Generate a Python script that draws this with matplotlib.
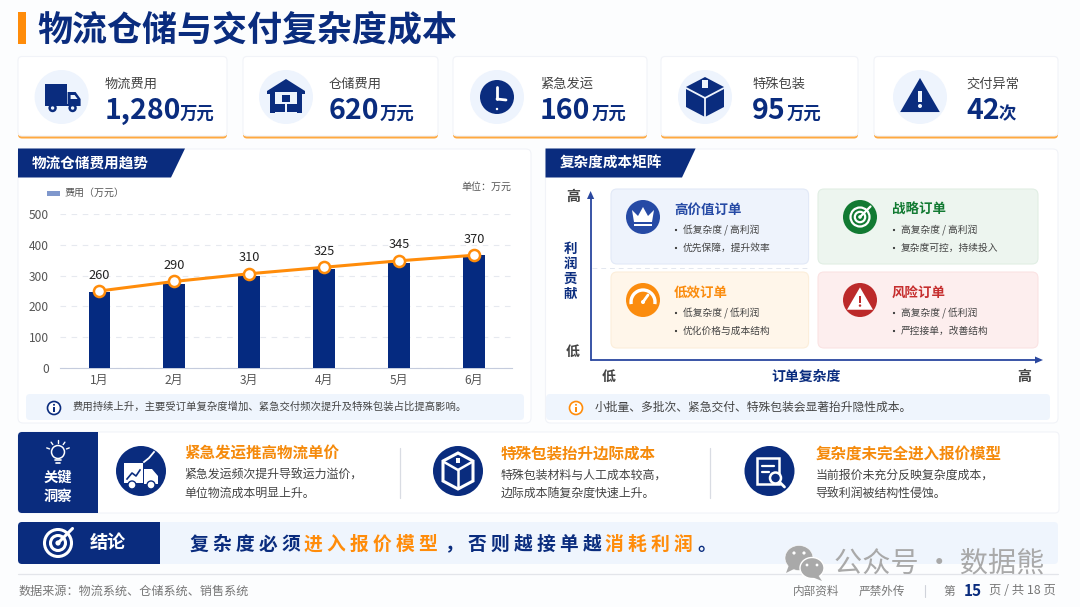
import numpy as np
import matplotlib
matplotlib.use("Agg")
import matplotlib.pyplot as plt
from matplotlib.patches import FancyBboxPatch, Rectangle, Circle, Polygon, Ellipse, Wedge, Arc

plt.rcParams['font.family'] = ['Noto Sans CJK SC', 'DejaVu Sans']

# ---------- data ----------
months = ['1月', '2月', '3月', '4月', '5月', '6月']
bar_values = [246, 274, 298, 320, 340, 366]
line_values = [250, 281, 306, 327, 348, 366]
point_labels = [260, 290, 310, 325, 345, 370]
y_ticks = [0, 100, 200, 300, 400, 500]

kpi_names = ['物流费用', '仓储费用', '紧急发运', '特殊包装', '交付异常']
kpi_values = ['1,280', '620', '160', '95', '42']
kpi_units = ['万元', '万元', '万元', '万元', '次']

quad_titles = ['高价值订单', '战略订单', '低效订单', '风险订单']
quad_lines = [['低复杂度 / 高利润', '优先保障，提升效率'],
              ['高复杂度 / 高利润', '复杂度可控，持续投入'],
              ['低复杂度 / 低利润', '优化价格与成本结构'],
              ['高复杂度 / 低利润', '严控接单，改善结构']]

insight_titles = ['紧急发运推高物流单价', '特殊包装抬升边际成本', '复杂度未完全进入报价模型']
insight_lines = [['紧急发运频次提升导致运力溢价，', '单位物流成本明显上升。'],
                 ['特殊包装材料与人工成本较高，', '边际成本随复杂度快速上升。'],
                 ['当前报价未充分反映复杂度成本，', '导致利润被结构性侵蚀。']]

NAVY = '#0A2C7E'
ORANGE = '#FF8C0A'
W, H = 1080, 607
fig = plt.figure(figsize=(10.8, 6.07), dpi=100, facecolor='#FCFDFE')
bg = fig.add_axes([0, 0, 1, 1])
bg.set_xlim(0, W)
bg.set_ylim(H, 0)
bg.axis('off')


def rrect(x0, y0, x1, y1, r=4, fc='white', ec='none', lw=0.8, z=1, alpha=None):
    p = FancyBboxPatch((x0 + r, y0 + r), x1 - x0 - 2 * r, y1 - y0 - 2 * r,
                       boxstyle=f'round,pad={r},rounding_size={r}', fc=fc, ec=ec, lw=lw, zorder=z, alpha=alpha)
    bg.add_patch(p)


def rect(x0, y0, x1, y1, fc='white', z=3):
    bg.add_patch(Rectangle((x0, y0), x1 - x0, y1 - y0, fc=fc, ec='none', zorder=z))


def circ(x, y, r, fc='white', ec='none', lw=0, z=3):
    bg.add_patch(Circle((x, y), r, fc=fc, ec=ec, lw=lw, zorder=z))


def poly(pts, fc='white', z=3, ec='none', lw=0):
    bg.add_patch(Polygon(pts, closed=True, fc=fc, ec=ec, lw=lw, zorder=z))


def seg(x0, y0, x1, y1, c='white', lw=1.2, z=4, ls='-'):
    bg.plot([x0, x1], [y0, y1], color=c, lw=lw, zorder=z, ls=ls, solid_capstyle='round')


def txt(x, y, s, size, c='#333333', w='normal', ha='left', va='center', z=5, **kw):
    return bg.text(x, y, s, fontsize=size, color=c, fontweight=w, ha=ha, va=va, zorder=z, **kw)


# ---------- icons ----------
def icon_truck(cx, cy, c=NAVY):
    rect(cx - 17, cy - 13, cx + 5, cy + 7, c)
    poly([(cx + 6, cy - 5), (cx + 14, cy - 5), (cx + 19, cy + 2), (cx + 19, cy + 9), (cx + 6, cy + 9)], c)
    poly([(cx + 9, cy - 2), (cx + 13, cy - 2), (cx + 16, cy + 2), (cx + 9, cy + 2)], '#EEF4FD', z=4)
    rect(cx - 17, cy + 7, cx + 6, cy + 9, c)
    for dx in (-9, 11):
        circ(cx + dx, cy + 11, 4.2, c, z=4)
        circ(cx + dx, cy + 11, 1.7, '#EEF4FD', z=5)


def icon_warehouse(cx, cy, c=NAVY):
    poly([(cx, cy - 18), (cx + 19, cy - 6), (cx + 19, cy - 3), (cx + 16, cy - 3), (cx + 16, cy + 16),
          (cx - 16, cy + 16), (cx - 16, cy - 3), (cx - 19, cy - 3), (cx - 19, cy - 6)], c)
    rect(cx - 11, cy - 5, cx + 11, cy + 16, '#EEF4FD', z=4)
    rect(cx - 4, cy - 2, cx + 4, cy + 5, c, z=5)
    rect(cx - 11, cy + 7, cx - 1, cy + 15, c, z=5)
    rect(cx + 1, cy + 7, cx + 11, cy + 15, c, z=5)


def icon_clock(cx, cy, c=NAVY):
    circ(cx, cy, 17, c)
    seg(cx, cy - 10, cx, cy + 2, 'white', 2)
    seg(cx, cy + 2, cx + 9, cy + 3, 'white', 2)
    circ(cx, cy + 12, 1.2, 'white', z=4)


def icon_box(cx, cy, c=NAVY):
    poly([(cx, cy - 20), (cx + 19, cy - 10), (cx + 19, cy + 10), (cx, cy + 20), (cx - 19, cy + 10), (cx - 19, cy - 10)], c)
    seg(cx - 19, cy - 9, cx, cy + 1, '#EEF4FD', 1.3)
    seg(cx + 19, cy - 9, cx, cy + 1, '#EEF4FD', 1.3)
    seg(cx, cy + 1, cx, cy + 20, '#EEF4FD', 1.3)
    rect(cx - 3, cy - 17, cx + 3, cy - 9, '#EEF4FD', z=4)


def icon_warn(cx, cy, c=NAVY, fg='#EEF4FD', s=1.0):
    poly([(cx, cy - 17 * s), (cx + 18 * s, cy + 14 * s), (cx - 18 * s, cy + 14 * s)], c, ec=c, lw=1.5)
    rect(cx - 1.8 * s, cy - 6 * s, cx + 1.8 * s, cy + 5 * s, fg, z=5)
    circ(cx, cy + 9 * s, 2 * s, fg, z=5)


def icon_crown(cx, cy):
    poly([(cx - 11, cy - 6), (cx - 5, cy), (cx, cy - 9), (cx + 5, cy), (cx + 11, cy - 6), (cx + 9, cy + 6), (cx - 9, cy + 6)], 'white', z=4)
    rect(cx - 9, cy + 8, cx + 9, cy + 10, 'white', z=4)


def icon_target(cx, cy, fg='white', rad=(9.5, 5.2, 1.8), lw=1.6):
    for r in rad[:2]:
        circ(cx, cy, r, 'none', fg, lw, z=4)
    circ(cx, cy, rad[2], fg, z=4)
    seg(cx, cy, cx + rad[0] + 1, cy - rad[0] - 1, fg, lw)


def icon_gauge(cx, cy):
    bg.add_patch(Arc((cx, cy + 3), 24, 24, theta1=170, theta2=370, ec='white', lw=2.4, zorder=4))
    seg(cx, cy + 3, cx + 5, cy - 4, 'white', 2)
    circ(cx, cy + 3, 2, 'white', z=5)


def icon_bulb(cx, cy):
    circ(cx, cy - 1, 6.5, 'none', 'white', 1.1, z=4)
    seg(cx - 3, cy + 7, cx + 3, cy + 7, 'white', 1.2)
    seg(cx - 2, cy + 10, cx + 2, cy + 10, 'white', 1.2)
    for a in np.deg2rad([-160, -125, -90, -55, -20]):
        seg(cx + 9 * np.cos(a), cy - 1 + 9 * np.sin(a), cx + 12 * np.cos(a), cy - 1 + 12 * np.sin(a), 'white', 1)


def icon_info(cx, cy, c):
    circ(cx, cy, 6.5, 'white', c, 1.2, z=4)
    rect(cx - 0.8, cy - 1, cx + 0.8, cy + 4, c, z=5)
    circ(cx, cy - 3.2, 1, c, z=5)


# ---------- title ----------
rect(18, 12, 26, 44, ORANGE)
txt(37, 29.5, '物流仓储与交付复杂度成本', 25.2, NAVY, 'bold')

# ---------- KPI cards ----------
card_x = [(18, 227), (243, 438), (453, 647), (661, 858), (874, 1058)]
icon_cx = [61.6, 286, 497, 705, 920]
text_x = [105, 329, 540, 752, 966]
unit_x = [180, 380, 592, 787, 999]
kpi_icons = [icon_truck, icon_warehouse, icon_clock, icon_box, icon_warn]
for i, (x0, x1) in enumerate(card_x):
    rrect(x0, 60, x1, 138.5, 4, '#FFA940', z=1)
    rrect(x0, 56.5, x1, 136, 4, 'white', '#F1F3F8', z=2)
    circ(icon_cx[i], 97, 27, '#EEF4FD', z=3)
    kpi_icons[i](icon_cx[i], 97, NAVY)
    txt(text_x[i], 84, kpi_names[i], 9.5, '#444444')
    txt(text_x[i], 111, kpi_values[i], 20.5, NAVY, 'bold')
    txt(unit_x[i], 114, kpi_units[i], 12.5, NAVY, 'bold')

# ---------- panels ----------
for (x0, x1, x2, x3, title) in [(18, 531, 185, 171, '物流仓储费用趋势'),
                                (545.5, 1058, 695.6, 682, '复杂度成本矩阵')]:
    rrect(x0, 149, x1, 423, 5, 'white', '#F1F3F8', z=1)
    poly([(x0, 148.5), (x2, 148.5), (x3, 177.5), (x0, 177.5)], NAVY, z=2)
    txt(x0 + 14, 163, title, 10.5, 'white', 'bold')

# ---------- bar + line chart ----------
ax = fig.add_axes([60 / W, 1 - 368 / H, (512 - 60) / W, (368 - 214) / H])
ax.patch.set_alpha(0)
xs = np.arange(len(months))
ax.bar(xs, bar_values, width=0.287, color='#052A80', zorder=3)
ax.plot(xs, line_values, color=ORANGE, lw=2.2, zorder=4, marker='o', ms=8,
        mfc='white', mec=ORANGE, mew=1.8)
for x, y, label in zip(xs, line_values, point_labels):
    ax.annotate(str(label), (x, y), xytext=(0, 11.5), textcoords='offset points',
                ha='center', va='center', fontsize=9.2, color='#222222', zorder=5)
ax.set_xlim(-0.525, 5.51)
ax.set_ylim(0, 500)
ax.set_yticks(y_ticks)
ax.set_xticks(xs, months)
ax.tick_params(axis='both', length=0, labelsize=8.6, labelcolor='#555555')
ax.tick_params(axis='y', pad=8)
ax.tick_params(axis='x', pad=4)
ax.yaxis.grid(True, color='#E6E9EF', lw=0.8, ls=(0, (5, 5)), zorder=0)
ax.set_axisbelow(True)
for s in ['top', 'right', 'left']:
    ax.spines[s].set_visible(False)
ax.spines['bottom'].set_color('#C5CCDD')
ax.spines['bottom'].set_linewidth(0.8)

rect(46.5, 191, 59.6, 196, '#7F97CC')
txt(65, 193, '费用（万元）', 7.2, '#555555')
txt(511, 187, '单位：万元', 7.2, '#555555', ha='right')

rrect(26, 394, 524, 420, 4, '#EFF5FD', z=2)
icon_info(54, 408, NAVY)
txt(73, 407, '费用持续上升，主要受订单复杂度增加、紧急交付频次提升及特殊包装占比提高影响。', 7.45, '#444444')

# ---------- matrix ----------
quad_box = [(611, 189, 808.6, 264), (818, 189, 1038, 264), (611, 272, 808.6, 348), (818, 272, 1038, 348)]
quad_fill = ['#EEF3FC', '#EDF5EF', '#FFF6EA', '#FDEEEE']
quad_edge = ['#E2E9F7', '#E1EEE4', '#FCEEDA', '#FBE3E3']
quad_dark = ['#264AA5', '#127A32', '#FB8C0E', '#BC2A2A']
quad_title_c = ['#264AA5', '#127A32', '#FB8C0E', '#C62E2E']
for i, (x0, y0, x1, y1) in enumerate(quad_box):
    rrect(x0, y0, x1, y1, 6, quad_fill[i], quad_edge[i], z=2)
    cx = 643 if i % 2 == 0 else 860
    cy = 217 if i < 2 else 300
    circ(cx, cy, 17, quad_dark[i])
    tx = 674 if i % 2 == 0 else 892
    txt(tx, cy - 7, quad_titles[i], 9.7, quad_title_c[i], 'bold')
    for j, line in enumerate(quad_lines[i]):
        ly = cy + 13 + 18 * j
        circ(tx + 2, ly, 1.1, '#333333')
        txt(tx + 9, ly, line, 7.0, '#444444')
icon_crown(643, 216)
icon_target(860, 217)
icon_gauge(643, 299)
icon_warn(860, 300, 'white', '#BC2A2A', 0.62)

seg(592, 268, 808, 268, '#E3E7EF', 0.7, z=1.5, ls=(0, (5, 4)))
AX = '#2A479F'
seg(590.6, 360, 590.6, 196, AX, 1.3)
seg(590.6, 360, 1038, 360, AX, 1.3)
poly([(590.6, 191), (587, 199), (594.2, 199)], AX)
poly([(1043, 360), (1035, 356.5), (1035, 363.5)], AX)
txt(572.7, 197, '高', 10, '#444444', 'bold', ha='center')
txt(572.7, 352, '低', 10, '#444444', 'bold', ha='center')
for ch, yy in zip('利润贡献', [249, 264, 279, 294]):
    txt(570, yy, ch, 9.7, NAVY, 'bold', ha='center')
txt(609, 377, '低', 10, '#444444', 'bold', ha='center')
txt(806, 377, '订单复杂度', 10, NAVY, 'bold', ha='center')
txt(1024, 377, '高', 10, '#444444', 'bold', ha='center')

rrect(546, 394, 1050, 420, 4, '#EFF5FD', z=2)
icon_info(576, 408, ORANGE)
txt(595, 407, '小批量、多批次、紧急交付、特殊包装会显著抬升隐性成本。', 8.5, '#444444')

# ---------- insights ----------
rrect(18, 432, 1059, 513, 4, 'white', '#F1F3F8', z=1)
rrect(18, 432, 98, 513, 4, NAVY, z=2)
rect(90, 432, 98, 513, NAVY, z=2)
icon_bulb(58, 453)
txt(58, 478, '关键', 10.3, 'white', 'bold', ha='center')
txt(58, 497, '洞察', 10.3, 'white', 'bold', ha='center')
ins_cx = [141, 458, 769.5]
ins_tx = [184, 501, 815.5]
for i in range(3):
    circ(ins_cx[i], 471, 25, NAVY)
    txt(ins_tx[i], 454, insight_titles[i], 11.2, '#F58A0B', 'bold')
    for j, line in enumerate(insight_lines[i]):
        txt(ins_tx[i], 475 + 18 * j, line, 8.6, '#444444')
for xv in (399.5, 710):
    seg(xv, 448, xv, 498, '#D9DCE3', 0.9, z=3)
# insight icons
c = ins_cx[0]
rect(c - 17, 463, c + 2, 483, 'white', z=4)
poly([(c + 3, 469), (c + 11, 469), (c + 17, 476), (c + 17, 484), (c + 3, 484)], 'white', z=4)
bg.plot([c - 14, c - 9, c - 5, c - 1], [479, 473, 476, 470], color=NAVY, lw=1.2, zorder=5)
bg.plot([c + 3, c + 8, c + 13], [462, 458, 452], color='white', lw=1.3, zorder=5)
for dx in (-9, 10):
    circ(c + dx, 485, 4, 'white', NAVY, 1, z=5)
c = ins_cx[1]
poly([(c, 453), (c + 15, 461), (c + 15, 481), (c, 489), (c - 15, 481), (c - 15, 461)], 'none', ec='white', lw=2.2, z=4)
seg(c - 14, 462, c, 470, 'white', 1.8)
seg(c + 14, 462, c, 470, 'white', 1.8)
seg(c, 470, c, 488, 'white', 1.8)
rect(c - 2, 458, c + 2, 463, 'white', z=5)
c = ins_cx[2]
bg.add_patch(Rectangle((c - 13, 458), 22, 26, fc='none', ec='white', lw=1.8, zorder=4))
seg(c - 8, 466, c + 4, 466, 'white', 1.6)
seg(c - 8, 472, c - 1, 472, 'white', 1.6)
circ(c + 6, 478, 5.5, NAVY, 'white', 1.8, z=5)
seg(c + 10, 482, c + 15, 487, 'white', 2, z=6)

# ---------- conclusion ----------
rrect(18, 522, 1058, 564, 4, '#EFF5FD', z=1)
rrect(18, 522, 160, 564, 4, NAVY, z=2)
rect(150, 522, 160, 564, NAVY, z=2)
icon_target(58, 543, 'white', (13.5, 7.5, 2.6), 2.2)
txt(108, 543, '结论', 13, 'white', 'bold', ha='center')
c_segments = [(190, '复 杂 度 必 须', NAVY), (304, '进 入 报 价 模 型', ORANGE),
              (445, '， 否 则 越 接 单 越', NAVY), (605, '消 耗 利 润', ORANGE), (697, '。', NAVY)]
for xv, s, col in c_segments:
    txt(xv, 544, s, 13.5, col, 'bold')

# ---------- footer ----------
seg(18, 574, 1058, 574, '#E3E5EA', 0.9, z=1)
txt(19, 591, '数据来源：物流系统、仓储系统、销售系统', 8.7, '#777777')
txt(792.4, 591, '内部资料', 8.4, '#777777')
txt(858.5, 591, '严禁外传', 8.4, '#777777')
seg(924.6, 585, 924.6, 597, '#D0D3DA', 0.8)
txt(943.6, 591, '第', 8.4, '#777777')
txt(963.5, 590.5, '15', 11, NAVY, 'bold')
txt(988.7, 591, '页 / 共 18 页', 8.9, '#777777')

# ---------- watermark ----------
WM = '#A9A9A9'
bg.add_patch(Ellipse((799, 558), 28, 25, fc=WM, ec='white', lw=0.4, zorder=6))
poly([(789, 565), (786, 573), (796, 568)], WM, z=6)
bg.add_patch(Ellipse((812, 568), 24, 21, fc=WM, ec='white', lw=1, zorder=6))
poly([(818, 575), (822, 581), (812, 577)], WM, z=6)
for dx, dy in [(-5, -3), (5, -3)]:
    circ(799 + dx, 556 + dy, 1.6, 'white', z=7)
    circ(812 + dx, 568 + dy, 1.4, 'white', z=7)
txt(834, 563, '公众号 · 数据熊', 20.3, WM, 'normal', z=6)

fig.savefig('out.png', dpi=100, facecolor=fig.get_facecolor())
